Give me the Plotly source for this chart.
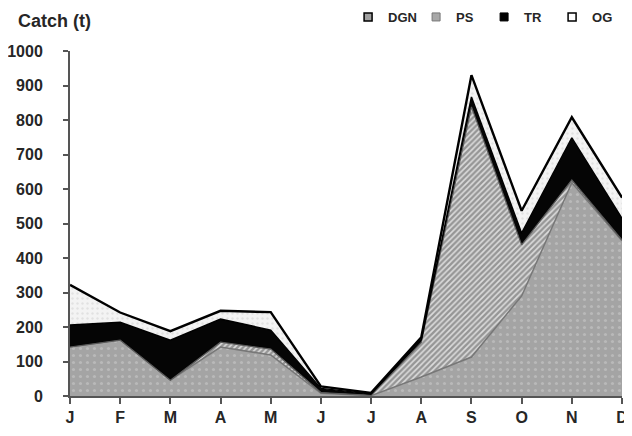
import plotly.graph_objects as go

months = ["J", "F", "M", "A", "M", "J", "J", "A", "S", "O", "N", "D"]
dgn = [142, 162, 46, 142, 119, 8, 1, 55, 113, 290, 618, 450]
ps = [0, 0, 0, 14, 17, 2, 1, 100, 725, 148, 8, 2]
tr = [64, 52, 116, 67, 55, 12, 4, 8, 29, 34, 122, 63]
og = [116, 28, 26, 24, 52, 6, 3, 7, 63, 65, 60, 60]
series_names = ["DGN", "PS", "TR", "OG"]
y_ticks = [0, 100, 200, 300, 400, 500, 600, 700, 800, 900, 1000]

x = list(range(len(months)))
font_family = "Liberation Sans, Arial, sans-serif"
txt = "#262626"

fig = go.Figure()

fig.add_trace(go.Scatter(
    x=x, y=dgn, name="DGN", stackgroup="one", mode="lines",
    line=dict(color="#777777", width=1.5),
    fillcolor="#a4a4a4",
    fillpattern=dict(shape=".", bgcolor="#a4a4a4", fgcolor="#cdcdcd", size=7, solidity=0.15),
    showlegend=False, hoverinfo="skip",
))
fig.add_trace(go.Scatter(
    x=x, y=ps, name="PS", stackgroup="one", mode="lines",
    line=dict(color="#5a5a5a", width=1.2),
    fillcolor="#9a9a9a",
    fillpattern=dict(shape="/", bgcolor="#dcdcdc", fgcolor="#4f4f4f", size=4, solidity=0.6),
    showlegend=False, hoverinfo="skip",
))
fig.add_trace(go.Scatter(
    x=x, y=tr, name="TR", stackgroup="one", mode="lines",
    line=dict(color="#000000", width=1.5),
    fillcolor="#050505",
    showlegend=False, hoverinfo="skip",
))
fig.add_trace(go.Scatter(
    x=x, y=og, name="OG", stackgroup="one", mode="lines",
    line=dict(color="#000000", width=2.4),
    fillcolor="#f2f2f2",
    fillpattern=dict(shape=".", bgcolor="#f3f3f3", fgcolor="#d0d0d0", size=5, solidity=0.2),
    showlegend=False, hoverinfo="skip",
))

# legend entries
leg_styles = {
    "DGN": dict(color="#a0a0a0", line=dict(color="#000000", width=1.5)),
    "PS": dict(color="#a8a8a8", line=dict(color="#777777", width=1)),
    "TR": dict(color="#000000", line=dict(color="#000000", width=1)),
    "OG": dict(color="#ffffff", line=dict(color="#000000", width=1.5)),
}
for nm in series_names:
    fig.add_trace(go.Scatter(
        x=[None], y=[None], mode="markers", name=nm,
        marker=dict(symbol="square", size=8, **leg_styles[nm]),
        showlegend=True,
    ))

fig.update_layout(
    width=624, height=428,
    margin=dict(l=62, r=10, t=43, b=40, autoexpand=False),
    paper_bgcolor="white", plot_bgcolor="white",
    font=dict(family=font_family, size=16, color=txt),
    title=dict(text="<b>Catch (t)</b>", x=0.016, xanchor="left", y=0.97, yanchor="middle",
               font=dict(family=font_family, size=18, color=txt)),
    legend=dict(orientation="h", xref="container", yref="container",
                x=0.545, xanchor="left", y=0.979, yanchor="middle",
                font=dict(family=font_family, size=13, color=txt, weight="bold"),
                entrywidth=23, entrywidthmode="pixels", itemwidth=30,
                bgcolor="rgba(0,0,0,0)", traceorder="normal", itemclick=False),
    xaxis=dict(
        range=[0, 11], tickmode="array", tickvals=x, ticktext=["<b>%s</b>" % m for m in months],
        showgrid=False, zeroline=False, showline=True, linecolor="#555555", linewidth=2,
        ticks="outside", ticklen=6, tickwidth=1.5, tickcolor="#555555",
        tickfont=dict(size=16, color=txt), ticklabelstandoff=0, ticklabeloverflow="allow",
    ),
    yaxis=dict(
        range=[0, 1000], tickmode="array", tickvals=y_ticks, ticktext=["<b>%d</b>" % v for v in y_ticks],
        showgrid=False, zeroline=False, showline=True, linecolor="#555555", linewidth=2,
        ticks="outside", ticklen=5, tickwidth=1.5, tickcolor="#555555",
        tickfont=dict(size=16, color=txt), ticklabelstandoff=17,
    ),
    showlegend=True,
)

fig.write_html("out.html")
